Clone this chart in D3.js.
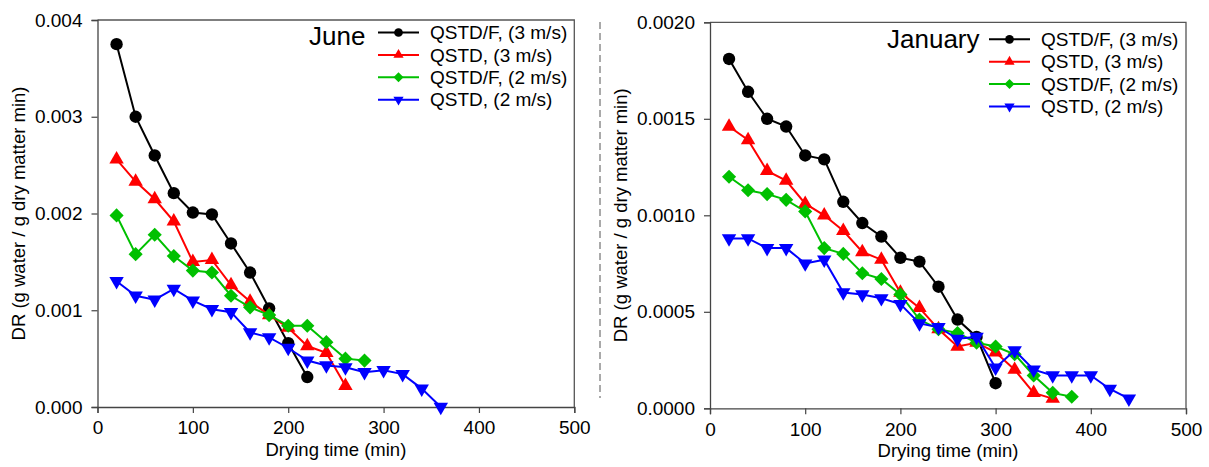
<!DOCTYPE html>
<html>
<head>
<meta charset="utf-8">
<script src="https://cdn.jsdelivr.net/npm/d3@7"></script>
<style>
  body { margin: 0; background: #fff; }
  svg { font-family: "Liberation Sans", Arial, sans-serif; }
</style>
</head>
<body>
<div id="chart"></div>
<script>
// series names (shared by both panels)
var seriesNames = ["QSTD/F, (3 m/s)", "QSTD, (3 m/s)", "QSTD/F, (2 m/s)", "QSTD, (2 m/s)"];
var xTicks = [0, 100, 200, 300, 400, 500];

// June
var junTimeBlack = [20, 40, 60, 80, 100, 120, 140, 160, 180, 200, 220];
var junBlack = [0.00375, 0.00300, 0.00260, 0.00221, 0.00201, 0.00199, 0.00169, 0.00139, 0.00102, 0.00066, 0.00031];
var junTimeRed = [20, 40, 60, 80, 100, 120, 140, 160, 180, 200, 220, 240, 260];
var junRed = [0.00256, 0.00233, 0.00215, 0.00192, 0.00150, 0.00152, 0.00126, 0.00109, 0.00095, 0.00082, 0.00063, 0.00056, 0.00022];
var junTimeGreen = [20, 40, 60, 80, 100, 120, 140, 160, 180, 200, 220, 240, 260, 280];
var junGreen = [0.00198, 0.00158, 0.00178, 0.00156, 0.00141, 0.00139, 0.00115, 0.00103, 0.00095, 0.00084, 0.00084, 0.00067, 0.00050, 0.00048];
var junTimeBlue = [20, 40, 60, 80, 100, 120, 140, 160, 180, 200, 220, 240, 260, 280, 300, 320, 340, 360];
var junBlue = [0.00130, 0.00115, 0.00111, 0.00122, 0.00110, 0.00101, 0.00098, 0.00077, 0.00072, 0.00061, 0.00048, 0.00043, 0.00041, 0.00036, 0.00038, 0.00034, 0.00019, 0.00000];
var junYTicks = [0, 0.001, 0.002, 0.003, 0.004];

// January
var janTimeBlack = [20, 40, 60, 80, 100, 120, 140, 160, 180, 200, 220, 240, 260, 280, 300];
var janBlack = [0.00181, 0.00164, 0.00150, 0.00146, 0.00131, 0.00129, 0.00107, 0.00096, 0.00089, 0.00078, 0.00076, 0.00063, 0.00046, 0.00037, 0.00013];
var janTimeRed = [20, 40, 60, 80, 100, 120, 140, 160, 180, 200, 220, 240, 260, 280, 300, 320, 340, 360];
var janRed = [0.00146, 0.00139, 0.00123, 0.00118, 0.00106, 0.00100, 0.00092, 0.00081, 0.00077, 0.00060, 0.00052, 0.00041, 0.00032, 0.00034, 0.00029, 0.00020, 0.00008, 0.00005];
var janTimeGreen = [20, 40, 60, 80, 100, 120, 140, 160, 180, 200, 220, 240, 260, 280, 300, 320, 340, 360, 380];
var janGreen = [0.00120, 0.00113, 0.00111, 0.00108, 0.00102, 0.00083, 0.00080, 0.00070, 0.00067, 0.00059, 0.00046, 0.00041, 0.00039, 0.00034, 0.00032, 0.00028, 0.00017, 0.00008, 0.00006];
var janTimeBlue = [20, 40, 60, 80, 100, 120, 140, 160, 180, 200, 220, 240, 260, 280, 300, 320, 340, 360, 380, 400, 420, 440];
var janBlue = [0.00088, 0.00088, 0.00083, 0.00083, 0.00075, 0.00077, 0.00060, 0.00059, 0.00057, 0.00054, 0.00044, 0.00042, 0.00036, 0.00037, 0.00021, 0.00030, 0.00020, 0.00017, 0.00017, 0.00017, 0.00010, 0.00005];
var janYTicks = [0, 0.0005, 0.001, 0.0015, 0.002];

var colors = ["#000000", "#ff0000", "#00c000", "#0000ff"];
var symbols = [
  { type: d3.symbolCircle, size: 120, rot: 0 },
  { type: d3.symbolTriangle, size: 90, rot: 0 },
  { type: d3.symbolSquare, size: 100, rot: 45 },
  { type: d3.symbolTriangle, size: 90, rot: 180 }
];

var width = 1209, height = 467;
var svg = d3.select("#chart").append("svg")
  .attr("width", width)
  .attr("height", height);

function drawPanel(opt) {
  var x = d3.scaleLinear().domain([0, 500]).range([opt.left, opt.right]);
  var y = d3.scaleLinear().domain([0, opt.yMax]).range([opt.bottom, opt.top]);
  var g = svg.append("g");

  // y title first so tick labels sit on top of it
  g.append("text")
    .attr("transform", "translate(" + opt.yLabelX + "," + ((opt.top + opt.bottom) / 2) + ") rotate(-90)")
    .attr("text-anchor", "middle")
    .attr("dy", "0.35em")
    .attr("font-size", 18.5)
    .text("DR (g water / g dry matter min)");

  // frame top/right
  g.append("path")
    .attr("d", "M" + opt.left + "," + opt.top + "H" + opt.right + "V" + opt.bottom)
    .attr("fill", "none").attr("stroke", "#555").attr("stroke-width", 1.3);

  var xAxis = g.append("g")
    .attr("transform", "translate(0," + opt.bottom + ")")
    .call(d3.axisBottom(x).tickValues(xTicks).tickSize(6).tickPadding(8).tickFormat(d3.format("d")));
  var yAxis = g.append("g")
    .attr("transform", "translate(" + opt.left + ",0)")
    .call(d3.axisLeft(y).tickValues(opt.yTicks).tickSize(6).tickPadding(9).tickFormat(d3.format(opt.fmt)));
  [xAxis, yAxis].forEach(function(a) {
    a.select(".domain").attr("stroke", "#444").attr("stroke-width", 1.3);
    a.selectAll(".tick line").attr("stroke", "#444").attr("stroke-width", 1.2);
    a.selectAll("text").attr("font-size", 19).attr("fill", "#000")
      .attr("font-family", "'Liberation Sans', Arial, sans-serif");
  });

  g.append("text")
    .attr("x", (opt.left + opt.right) / 2)
    .attr("y", opt.bottom + 49)
    .attr("text-anchor", "middle")
    .attr("font-size", 18.5)
    .text("Drying time (min)");

  var line = d3.line()
    .x(function(d) { return x(d[0]); })
    .y(function(d) { return y(d[1]); });

  opt.series.forEach(function(s, i) {
    var pts = s.t.map(function(t, j) { return [t, s.v[j]]; });
    g.append("path")
      .datum(pts)
      .attr("d", line)
      .attr("fill", "none")
      .attr("stroke", colors[i])
      .attr("stroke-width", 2);
    g.selectAll(".m" + i).data(pts).enter().append("path")
      .attr("class", "m" + i)
      .attr("d", d3.symbol().type(symbols[i].type).size(symbols[i].size))
      .attr("transform", function(d) {
        return "translate(" + x(d[0]) + "," + y(d[1]) + ") rotate(" + symbols[i].rot + ")";
      })
      .attr("fill", colors[i]);
  });

  // legend
  g.append("text")
    .attr("x", opt.titleX)
    .attr("y", opt.titleY)
    .attr("font-size", 26)
    .text(opt.title);

  seriesNames.forEach(function(name, i) {
    var ly = opt.legY + i * 22.4;
    g.append("line")
      .attr("x1", opt.legX).attr("x2", opt.legX + 41)
      .attr("y1", ly).attr("y2", ly)
      .attr("stroke", colors[i]).attr("stroke-width", 2);
    g.append("path")
      .attr("d", d3.symbol().type(symbols[i].type).size(symbols[i].size * 0.5))
      .attr("transform", "translate(" + (opt.legX + 20.5) + "," + ly + ") rotate(" + symbols[i].rot + ")")
      .attr("fill", colors[i]);
    g.append("text")
      .attr("x", opt.legX + 52)
      .attr("y", ly)
      .attr("dy", "0.35em")
      .attr("font-size", 19)
      .text(name);
  });
}

drawPanel({
  left: 97.5, right: 574.3, top: 20, bottom: 407,
  yMax: 0.004, yTicks: junYTicks, fmt: ".3f", yLabelX: 19,
  title: "June", titleX: 309, titleY: 45,
  legX: 378, legY: 32.5,
  series: [
    { t: junTimeBlack, v: junBlack },
    { t: junTimeRed, v: junRed },
    { t: junTimeGreen, v: junGreen },
    { t: junTimeBlue, v: junBlue }
  ]
});

drawPanel({
  left: 710, right: 1186, top: 22.3, bottom: 408.3,
  yMax: 0.002, yTicks: janYTicks, fmt: ".4f", yLabelX: 621,
  title: "January", titleX: 887, titleY: 48,
  legX: 989, legY: 39.3,
  series: [
    { t: janTimeBlack, v: janBlack },
    { t: janTimeRed, v: janRed },
    { t: janTimeGreen, v: janGreen },
    { t: janTimeBlue, v: janBlue }
  ]
});

// dashed separator between the panels
svg.append("line")
  .attr("x1", 600).attr("x2", 600)
  .attr("y1", 22).attr("y2", 398)
  .attr("stroke", "#555")
  .attr("stroke-width", 1)
  .attr("stroke-dasharray", "7,4");
</script>
</body>
</html>
